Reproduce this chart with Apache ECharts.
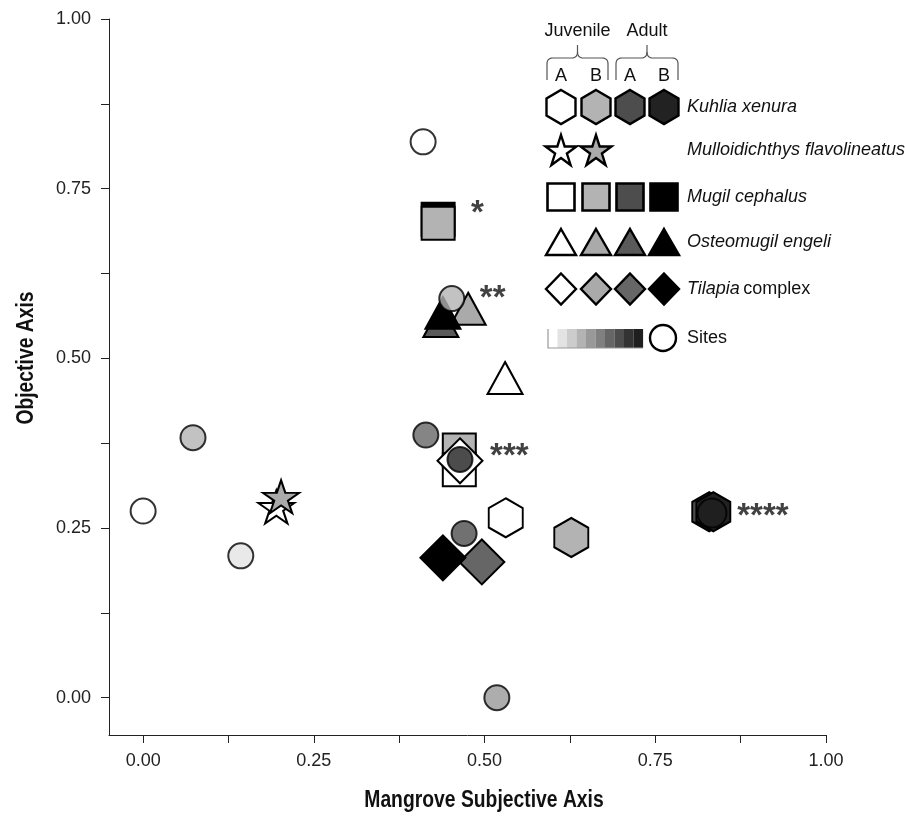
<!DOCTYPE html>
<html><head><meta charset="utf-8">
<script src="https://cdn.jsdelivr.net/npm/echarts@6/dist/echarts.min.js"></script>
<style>html,body{margin:0;padding:0;background:#fff}#c{width:905px;height:817px}</style>
</head><body><div id="c"></div>
<script>
// ================= DATA =================
const xLabelTicks = [0, 0.25, 0.5, 0.75, 1];
const yLabelTicks = [0, 0.25, 0.5, 0.75, 1];
const minorTicks = [0, 0.125, 0.25, 0.375, 0.5, 0.625, 0.75, 0.875, 1];
const stageNames = ['A', 'B', 'A', 'B'];
const stageGroups = ['Juvenile', 'Adult'];
const xTitle = 'Mangrove Subjective Axis';
const yTitle = 'Objective Axis';

// Kuhlia xenura (hexagon)
const kuhliaX = [0.531, 0.627, 0.829, 0.835];
const kuhliaY = [0.265, 0.236, 0.274, 0.274];
const kuhliaStage = [0, 1, 2, 3];
// Mulloidichthys flavolineatus (star)
const mulloX = [0.195, 0.202];
const mulloY = [0.281, 0.296];
const mulloStage = [0, 1];
// Osteomugil engeli (triangle)
const osteoX = [0.476, 0.436, 0.439, 0.530];
const osteoY = [0.573, 0.555, 0.567, 0.471];
const osteoStage = [1, 2, 3, 0];
// Mugil cephalus (square)
const mugilX = [0.432, 0.432, 0.463, 0.463];
const mugilY = [0.705, 0.699, 0.365, 0.336];
const mugilStage = [3, 1, 1, 0];
// Tilapia complex (diamond)
const tilapiaX = [0.464, 0.496, 0.439];
const tilapiaY = [0.349, 0.200, 0.206];
const tilapiaStage = [0, 2, 3];
// Sites (circles)
const siteX = [0.000, 0.073, 0.143, 0.410, 0.452, 0.414, 0.464, 0.470, 0.518, 0.833];
const siteY = [0.275, 0.383, 0.209, 0.819, 0.588, 0.387, 0.351, 0.242, 0.000, 0.272];
const siteShade = [0, 3, 1, 0, 3, 6, 9, 7, 4, 9];
// Significance annotations
const annotX = [0.480, 0.493, 0.508, 0.870];
const annotY = [0.713, 0.588, 0.355, 0.267];
const annotText = ['*', '**', '***', '****'];

const speciesNames = ['Kuhlia xenura', 'Mulloidichthys flavolineatus', 'Mugil cephalus', 'Osteomugil engeli', 'Tilapia complex'];

// ================= STYLE =================
const shades = ['#ffffff', '#e3e3e3', '#cccccc', '#b3b3b3', '#999999', '#808080', '#666666', '#4d4d4d', '#333333', '#1f1f1f'];
const kuhliaColors = ['#ffffff', '#b3b3b3', '#4d4d4d', '#222222'];
const mulloColors = ['#ffffff', '#aaaaaa'];
const mugilColors = ['#ffffff', '#b3b3b3', '#4d4d4d', '#000000'];
const osteoColors = ['#ffffff', '#aaaaaa', '#5a5a5a', '#000000'];
const tilapiaColors = ['#ffffff', '#aaaaaa', '#666666', '#000000'];
const siteSizes = [25, 25, 25, 25, 25, 25, 25, 25, 25, 29];

const HEX = 'path://M50,0 L93.3,25 L93.3,75 L50,100 L6.7,75 L6.7,25 Z';
const STAR_PTS = [[50,0],[61.23,34.55],[97.55,34.55],[68.16,55.9],[79.39,90.45],[50,69.1],[20.61,90.45],[31.84,55.9],[2.45,34.55],[38.77,34.55]];
const STAR = 'path://M' + STAR_PTS.map(p => p.join(',')).join(' L') + ' Z';
const FONT = 'Liberation Sans, Arial, sans-serif';
const LEG_FS = 18;

function items(xs, ys, st, colors) {
  return xs.map((x, i) => ({ value: [x, ys[i]], itemStyle: { color: colors[st[i]] } }));
}
function scatter(name, symbol, size, data) {
  return { name, type: 'scatter', symbol, symbolSize: size, data,
    itemStyle: { borderColor: '#000', borderWidth: 2, opacity: 1 }, emphasis: { disabled: true } };
}

// ================= LEGEND + TITLES (graphic) =================
const colX = [561, 596, 630, 664];
const rowY = [107, 150, 197, 242, 289, 338];
const legTextX = 687;
const g = [];
const LW = 2.4;
function poly(points, fill) { g.push({ type: 'polygon', shape: { points }, style: { fill, stroke: '#000', lineWidth: LW } }); }
function hexPts(cx, cy, w, h) { return [[cx, cy - h/2], [cx + w/2, cy - h/4], [cx + w/2, cy + h/4], [cx, cy + h/2], [cx - w/2, cy + h/4], [cx - w/2, cy - h/4]]; }
function starPts(cx, cy, w, h) { return STAR_PTS.map(p => [cx - w/2 + (p[0] - 2.45) / 95.1 * w, cy - h/2 + p[1] / 90.45 * h]); }
function triPts(cx, cy, w, h) { return [[cx, cy - h/2], [cx + w/2, cy + h/2], [cx - w/2, cy + h/2]]; }
function diaPts(cx, cy, w, h) { return [[cx, cy - h/2], [cx + w/2, cy], [cx, cy + h/2], [cx - w/2, cy]]; }
function quad(p0, p1, p2, n) { const out = []; for (let k = 0; k <= n; k++) { const t = k / n, a = (1-t)*(1-t), b = 2*(1-t)*t, c = t*t; out.push([a*p0[0]+b*p1[0]+c*p2[0], a*p0[1]+b*p1[1]+c*p2[1]]); } return out; }
function txt(x, y, text, extra) {
  g.push({ type: 'text', x, y, style: Object.assign({ text, fill: '#111', font: LEG_FS + 'px ' + FONT, verticalAlign: 'middle' }, extra || {}) });
}
// brackets + headers
const brackets = [[547, 608], [616, 678]];
brackets.forEach((b, i) => {
  const [l, r] = b, m = (l + r) / 2;
  const pts = [[l, 80]].concat(quad([l, 64], [l, 58], [l + 6, 58], 6), quad([m - 6, 58], [m, 58], [m, 52], 6), [[m, 45]]);
  const pts2 = [[m, 52]].concat(quad([m, 52], [m, 58], [m + 6, 58], 6), quad([r - 6, 58], [r, 58], [r, 64], 6), [[r, 80]]);
  g.push({ type: 'polyline', shape: { points: pts }, style: { fill: null, stroke: '#555', lineWidth: 1.2 } });
  g.push({ type: 'polyline', shape: { points: pts2 }, style: { fill: null, stroke: '#555', lineWidth: 1.2 } });
  txt(m, 31, stageGroups[i], { align: 'center' });
});
stageNames.forEach((s, i) => txt(colX[i], 76, s, { align: 'center' }));
// rows
kuhliaColors.forEach((c, i) => poly(hexPts(colX[i], rowY[0], 29, 34), c));
mulloColors.forEach((c, i) => poly(starPts(colX[i], rowY[1], 31, 30), c));
mugilColors.forEach((c, i) => g.push({ type: 'rect', shape: { x: colX[i] - 13.5, y: rowY[2] - 13.5, width: 27, height: 27 }, style: { fill: c, stroke: '#000', lineWidth: 2.6 } }));
osteoColors.forEach((c, i) => poly(triPts(colX[i], rowY[3], 30, 26), c));
tilapiaColors.forEach((c, i) => poly(diaPts(colX[i], rowY[4], 30, 31), c));
const italic = { font: 'italic ' + LEG_FS + 'px ' + FONT };
txt(legTextX, rowY[0], speciesNames[0], italic);
txt(legTextX, rowY[1], speciesNames[1], italic);
txt(legTextX, rowY[2], speciesNames[2], italic);
txt(legTextX, rowY[3], speciesNames[3], italic);
g.push({ type: 'text', x: legTextX, y: rowY[4], style: { text: '{i|Tilapia} {n|complex}', verticalAlign: 'middle',
  rich: { i: { font: 'italic ' + LEG_FS + 'px ' + FONT, fill: '#111' }, n: { font: LEG_FS + 'px ' + FONT, fill: '#111' } } } });
// sites gradient strip
shades.forEach((c, i) => g.push({ type: 'rect', shape: { x: 548 + i * 9.5, y: 329, width: 9.6, height: 19 }, style: { fill: c } }));
g.push({ type: 'polyline', shape: { points: [[548, 329], [548, 348], [643, 348]] }, style: { stroke: '#999', lineWidth: 1.2, fill: null } });
g.push({ type: 'circle', shape: { cx: 663, cy: 338, r: 13 }, style: { fill: '#fff', stroke: '#000', lineWidth: 2.4 } });
txt(legTextX, 338, 'Sites');
// axis titles (condensed bold look)
g.push({ type: 'text', x: 484, y: 801, scaleX: 0.84, style: { text: xTitle, font: 'bold 23px ' + FONT, fill: '#111', align: 'center', verticalAlign: 'middle' } });
g.push({ type: 'text', x: 27, y: 358, rotation: Math.PI / 2, scaleX: 0.84, style: { text: yTitle, font: 'bold 23px ' + FONT, fill: '#111', align: 'center', verticalAlign: 'middle' } });

// ================= CHART =================
const chart = echarts.init(document.getElementById('c'), null, { renderer: 'canvas' });
const axisCommon = {
  type: 'value', max: 1,
  axisLine: { show: true, onZero: false, lineStyle: { color: '#222', width: 1 } },
  axisTick: { show: true, inside: false, length: 8, customValues: minorTicks, lineStyle: { color: '#222' } },
  splitLine: { show: false }
};
chart.setOption({
  animation: false,
  backgroundColor: '#fff',
  grid: { left: 109, right: 79, top: 19, bottom: 82, containLabel: false },
  xAxis: Object.assign({}, axisCommon, { min: -0.05,
    axisLabel: { customValues: xLabelTicks, margin: 17, fontFamily: FONT, fontSize: 18, color: '#222', formatter: v => v.toFixed(2) }
  }),
  yAxis: Object.assign({}, axisCommon, { min: -0.055,
    axisLabel: { customValues: yLabelTicks, margin: 18, fontFamily: FONT, fontSize: 18, color: '#222', formatter: v => v.toFixed(2) }
  }),
  series: [
    scatter('Kuhlia xenura', HEX, [34, 39], items(kuhliaX, kuhliaY, kuhliaStage, kuhliaColors)),
    scatter('Mulloidichthys flavolineatus', STAR, [36, 33], items(mulloX, mulloY, mulloStage, mulloColors)),
    scatter('Osteomugil engeli', 'triangle', [35, 32], items(osteoX, osteoY, osteoStage, osteoColors)),
    scatter('Mugil cephalus', 'rect', [33, 33], items(mugilX, mugilY, mugilStage, mugilColors)),
    scatter('Tilapia complex', 'diamond', [45, 45], items(tilapiaX, tilapiaY, tilapiaStage, tilapiaColors)),
    { name: 'Sites', type: 'scatter', symbol: 'circle',
      symbolSize: (v, p) => siteSizes[p.dataIndex],
      data: siteX.map((x, i) => ({ value: [x, siteY[i]], itemStyle: { color: shades[siteShade[i]] } })),
      itemStyle: { borderColor: '#000', borderWidth: 2 }, emphasis: { disabled: true } },
    { name: 'annotations', type: 'scatter', symbolSize: 1, itemStyle: { color: 'rgba(0,0,0,0)', borderWidth: 0 },
      data: annotX.map((x, i) => ({ value: [x, annotY[i]], label: { formatter: annotText[i] } })),
      label: { show: true, position: 'inside', align: 'left', verticalAlign: 'middle', fontFamily: FONT, fontWeight: 'bold', fontSize: 33, color: '#111' },
      emphasis: { disabled: true }, silent: true }
  ],
  graphic: g
});
</script></body></html>
